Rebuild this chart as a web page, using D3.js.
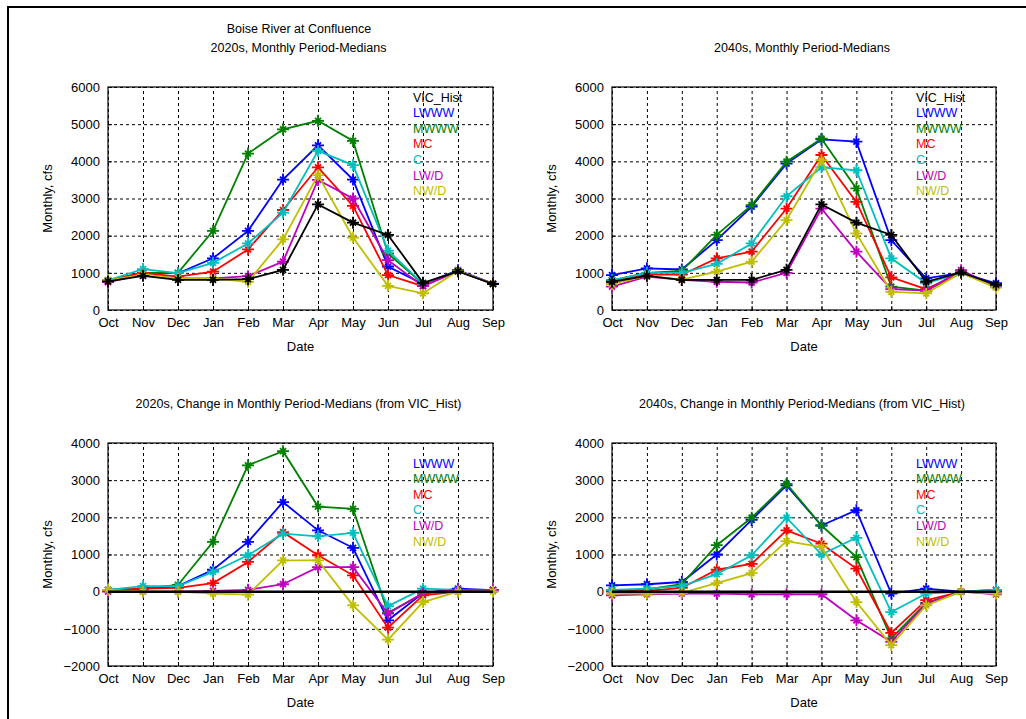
<!DOCTYPE html>
<html>
<head>
<meta charset="utf-8">
<script src="https://cdn.jsdelivr.net/npm/d3@7"></script>
<style>
  body { margin: 0; background: #fff; }
  text { font-family: "Liberation Sans", Arial, sans-serif; }
</style>
</head>
<body>
<script>
'use strict';

// months on the x axis
const months = ["Oct", "Nov", "Dec", "Jan", "Feb", "Mar", "Apr", "May", "Jun", "Jul", "Aug", "Sep"];

// series names and colours (matlab defaults)
const seriesNames = ["VIC_Hist", "LWWW", "MWWW", "MC", "C", "LW/D", "NW/D"];
const seriesColors = ["#000000", "#0000ff", "#008000", "#ff0000", "#00bfbf", "#bf00bf", "#bfbf00"];

// 2020s monthly period medians, cfs
const hist2020 = [770, 920, 810, 810, 830, 1080, 2840, 2350, 2020, 730, 1040, 700];
const lwww2020 = [800, 1000, 990, 1390, 2130, 3510, 4430, 3510, 1170, 700, 1070, 710];
const mwww2020 = [800, 1000, 1000, 2130, 4210, 4860, 5090, 4550, 1520, 700, 1050, 700];
const mc2020 = [800, 1000, 900, 1030, 1630, 2690, 3840, 2800, 940, 640, 1050, 700];
const c2020 = [800, 1100, 990, 1270, 1790, 2620, 4280, 3900, 1600, 700, 1050, 700];
const lwd2020 = [750, 950, 850, 850, 910, 1300, 3500, 3000, 1340, 640, 1050, 700];
const nwd2020 = [800, 950, 850, 850, 760, 1900, 3630, 1950, 650, 450, 1050, 700];

// 2040s monthly period medians, cfs
const hist2040 = [760, 920, 810, 810, 810, 1080, 2840, 2350, 2020, 760, 1010, 680];
const lwww2040 = [940, 1120, 1090, 1880, 2780, 3940, 4590, 4530, 1880, 850, 1000, 720];
const mwww2040 = [800, 1000, 1050, 2020, 2820, 3990, 4610, 3270, 630, 520, 1000, 650];
const mc2040 = [750, 950, 950, 1390, 1570, 2730, 4170, 2910, 880, 560, 1000, 650];
const c2040 = [800, 1000, 1000, 1240, 1790, 3060, 3840, 3760, 1390, 720, 1000, 650];
const lwd2040 = [630, 900, 810, 760, 740, 1000, 2730, 1570, 560, 520, 1070, 630];
const nwd2040 = [700, 920, 820, 1030, 1300, 2420, 4030, 2060, 490, 450, 1000, 600];

// 2020s change from VIC_Hist, cfs
const histChg2020 = [0, 0, 0, 0, 0, 0, 0, 0, 0, 0, 0, 0];
const lwwwChg2020 = [50, 80, 150, 590, 1340, 2410, 1650, 1180, -770, -40, 80, 40];
const mwwwChg2020 = [50, 80, 180, 1340, 3400, 3780, 2290, 2230, -570, -50, 40, 40];
const mcChg2020 = [50, 80, 100, 230, 800, 1600, 980, 440, -970, -100, 0, 40];
const cChg2020 = [50, 150, 150, 530, 980, 1560, 1490, 1580, -390, 80, 50, 50];
const lwdChg2020 = [0, 0, 0, 20, 50, 200, 660, 660, -590, -40, 50, 50];
const nwdChg2020 = [50, 0, 0, -50, -80, 840, 840, -370, -1290, -280, 0, 0];

// 2040s change from VIC_Hist, cfs
const histChg2040 = [0, 0, 0, 0, 0, 0, 0, 0, 0, 0, 0, 0];
const lwwwChg2040 = [170, 200, 260, 1000, 1930, 2860, 1780, 2190, -50, 80, 0, 50];
const mwwwChg2040 = [30, 60, 200, 1250, 1990, 2900, 1780, 930, -1260, -300, 0, 0];
const mcChg2040 = [0, 20, 100, 590, 750, 1650, 1290, 620, -1110, -230, 0, 0];
const cChg2040 = [50, 80, 150, 470, 980, 1990, 1000, 1450, -550, -50, 0, 50];
const lwdChg2040 = [-100, -70, -50, -50, -70, -70, -70, -770, -1350, -320, 0, -70];
const nwdChg2040 = [-50, -50, -30, 230, 500, 1360, 1200, -280, -1440, -370, 0, -50];

// y tick values
const flowTicks = [0, 1000, 2000, 3000, 4000, 5000, 6000];
const changeTicks = [-2000, -1000, 0, 1000, 2000, 3000, 4000];

let svgContainer = "";

window.onload = function() {
  svgContainer = d3.select('body')
    .append('svg')
    .attr('width', 1026)
    .attr('height', 719);

  // outer frame
  svgContainer.append('path')
    .attr('d', 'M8,719 L8,7 L1026,7')
    .attr('fill', 'none')
    .attr('stroke', '#000')
    .attr('stroke-width', 2);

  svgContainer.append('text')
    .attr('x', 299).attr('y', 33)
    .attr('text-anchor', 'middle')
    .style('font-size', '12.5px')
    .text('Boise River at Confluence');

  makePanel({
    left: 108, right: 493, top: 87, bottom: 310,
    domain: [0, 6000], ticks: flowTicks,
    title: '2020s, Monthly Period-Medians',
    series: [hist2020, lwww2020, mwww2020, mc2020, c2020, lwd2020, nwd2020],
    showHist: true
  });
  makePanel({
    left: 612, right: 996, top: 87, bottom: 310,
    domain: [0, 6000], ticks: flowTicks,
    title: '2040s, Monthly Period-Medians',
    series: [hist2040, lwww2040, mwww2040, mc2040, c2040, lwd2040, nwd2040],
    showHist: true
  });
  makePanel({
    left: 108, right: 493, top: 443, bottom: 666,
    domain: [-2000, 4000], ticks: changeTicks,
    title: '2020s, Change in Monthly Period-Medians (from VIC_Hist)',
    series: [histChg2020, lwwwChg2020, mwwwChg2020, mcChg2020, cChg2020, lwdChg2020, nwdChg2020],
    showHist: false
  });
  makePanel({
    left: 612, right: 996, top: 443, bottom: 666,
    domain: [-2000, 4000], ticks: changeTicks,
    title: '2040s, Change in Monthly Period-Medians (from VIC_Hist)',
    series: [histChg2040, lwwwChg2040, mwwwChg2040, mcChg2040, cChg2040, lwdChg2040, nwdChg2040],
    showHist: false
  });
};

// draw one subplot
function makePanel(p) {
  let g = svgContainer.append('g');
  let w = p.right - p.left;
  let h = p.bottom - p.top;

  let xScale = d3.scalePoint().domain(months).range([p.left, p.right]);
  let yScale = d3.scaleLinear().domain(p.domain).range([p.bottom, p.top]);

  // dashed grid
  g.append('g')
    .attr('transform', 'translate(0,' + p.bottom + ')')
    .call(d3.axisBottom(xScale).tickSize(-h).tickFormat(''))
    .call(s => s.select('.domain').remove())
    .selectAll('line')
      .attr('stroke', '#000')
      .attr('stroke-dasharray', '3,3');
  g.append('g')
    .attr('transform', 'translate(' + p.left + ',0)')
    .call(d3.axisLeft(yScale).tickValues(p.ticks).tickSize(-w).tickFormat(''))
    .call(s => s.select('.domain').remove())
    .selectAll('line')
      .attr('stroke', '#000')
      .attr('stroke-dasharray', '3,3');

  // box
  g.append('rect')
    .attr('x', p.left).attr('y', p.top)
    .attr('width', w).attr('height', h)
    .attr('fill', 'none')
    .attr('stroke', '#000')
    .attr('stroke-width', 1.2);

  // axes with inward ticks
  let xAxis = g.append('g')
    .attr('transform', 'translate(0,' + p.bottom + ')')
    .call(d3.axisBottom(xScale).tickSizeInner(-4).tickSizeOuter(0).tickPadding(8));
  xAxis.select('.domain').remove();
  xAxis.selectAll('text')
    .style('font-size', '13px')
    .style('font-family', '"Liberation Sans", Arial, sans-serif');

  let yAxis = g.append('g')
    .attr('transform', 'translate(' + p.left + ',0)')
    .call(d3.axisLeft(yScale).tickValues(p.ticks).tickFormat(d3.format('d'))
      .tickSizeInner(-4).tickSizeOuter(0).tickPadding(8));
  yAxis.select('.domain').remove();
  yAxis.selectAll('text')
    .style('font-size', '13px')
    .style('font-family', '"Liberation Sans", Arial, sans-serif');

  // labels
  g.append('text')
    .attr('x', (p.left + p.right) / 2 - 2)
    .attr('y', p.top - 35)
    .attr('text-anchor', 'middle')
    .style('font-size', '12.5px')
    .text(p.title);

  g.append('text')
    .attr('x', (p.left + p.right) / 2)
    .attr('y', p.bottom + 41)
    .attr('text-anchor', 'middle')
    .style('font-size', '13px')
    .text('Date');

  g.append('text')
    .attr('transform', 'translate(' + (p.left - 56) + ',' + ((p.top + p.bottom) / 2) + ')rotate(-90)')
    .attr('text-anchor', 'middle')
    .style('font-size', '13px')
    .text('Monthly, cfs');

  // series lines and markers, hist drawn last
  let order = [1, 2, 3, 4, 5, 6, 0];
  let line = d3.line()
    .x((d, i) => xScale(months[i]))
    .y(d => yScale(d));

  order.forEach(function(k) {
    let vals = p.series[k];
    let col = seriesColors[k];
    g.append('path')
      .datum(vals)
      .attr('d', line)
      .attr('fill', 'none')
      .attr('stroke', col)
      .attr('stroke-width', k === 0 && !p.showHist ? 2.5 : 1.8);

    if (k === 0 && !p.showHist) return;

    g.selectAll('.mk' + k)
      .data(vals)
      .enter()
      .append('path')
        .attr('class', 'mk' + k)
        .attr('transform', (d, i) => 'translate(' + xScale(months[i]) + ',' + yScale(d) + ')')
        .attr('d', 'M-6,0H6M0,-6V6M-3,-3L3,3M-3,3L3,-3')
        .attr('fill', 'none')
        .attr('stroke', col)
        .attr('stroke-width', 1.8);
  });

  // legend as coloured text
  let legendNames = p.showHist ? seriesNames : seriesNames.slice(1);
  let legendColors = p.showHist ? seriesColors : seriesColors.slice(1);
  let firstRow = p.showHist ? p.top + 10 : p.top + 20;
  g.selectAll('.legend')
    .data(legendNames)
    .enter()
    .append('text')
      .attr('x', p.right - 80)
      .attr('y', (d, i) => firstRow + i * 15.6 + 4.5)
      .style('font-size', '12.5px')
      .attr('fill', (d, i) => legendColors[i])
      .text(d => d);
}
</script>
</body>
</html>
